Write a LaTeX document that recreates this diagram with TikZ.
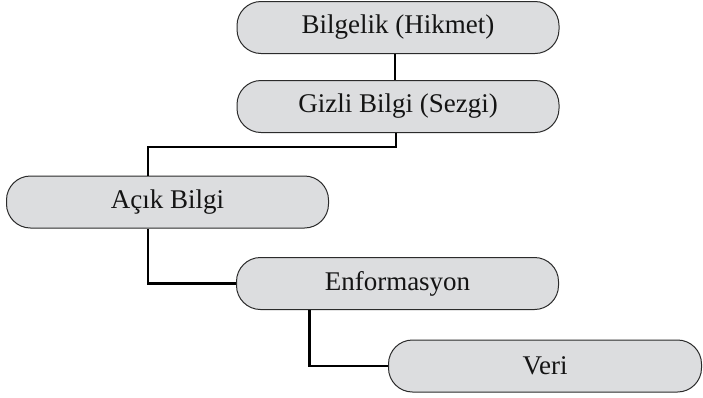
\documentclass[tikz,border=0pt]{standalone}
\usepackage{fontspec}
\setmainfont{Liberation Serif}
\usepackage{tikz}
\usepackage{xcolor}
\definecolor{FontColor}{HTML}{141414}
\definecolor{BoxGray}{HTML}{DCDDDF}
\definecolor{EdgeGray}{HTML}{2B2B2B}
\newcommand\nodebilgelik{Bilgelik (Hikmet)}
\newcommand\nodegizli{Gizli Bilgi (Sezgi)}
\newcommand\nodeacik{Açık Bilgi}
\newcommand\nodeenf{Enformasyon}
\newcommand\nodeveri{Veri}
\tikzstyle{levelbox} = [rectangle, rounded corners=24pt, minimum height=52pt, text=FontColor, font=\fontsize{27}{30}\selectfont]
\tikzstyle{gb} = [levelbox, draw=EdgeGray, fill=BoxGray, line width=1pt, minimum width=322pt]
\tikzset{every picture/.style={line width=2.4pt}}

\begin{document}
\begin{tikzpicture}[x=1pt, y=-1pt]
\useasboundingbox (0, 0) rectangle (703, 397);
\node[gb] (bilgelik) at (398, 27.5) {\nodebilgelik};
\node[gb] (gizli) at (398, 106.5) {\nodegizli};
\node[gb] (acik) at (167.5, 202) {\nodeacik};
\node[gb] (enf) at (397.5, 283.5) {\nodeenf};
\node[gb, minimum width=313pt] (veri) at (545, 366) {\nodeveri};
\draw ([xshift=-3pt]bilgelik.south) -- ([xshift=-3pt]gizli.north);
\draw ([xshift=-2pt]gizli.south) -- ++(0, 14) -| ([xshift=-19.5pt]acik.north);
\draw ([xshift=-19.5pt]acik.south) |- (enf.west);
\draw ([xshift=-88pt]enf.south) |- (veri.west);
\end{tikzpicture}
\end{document}
